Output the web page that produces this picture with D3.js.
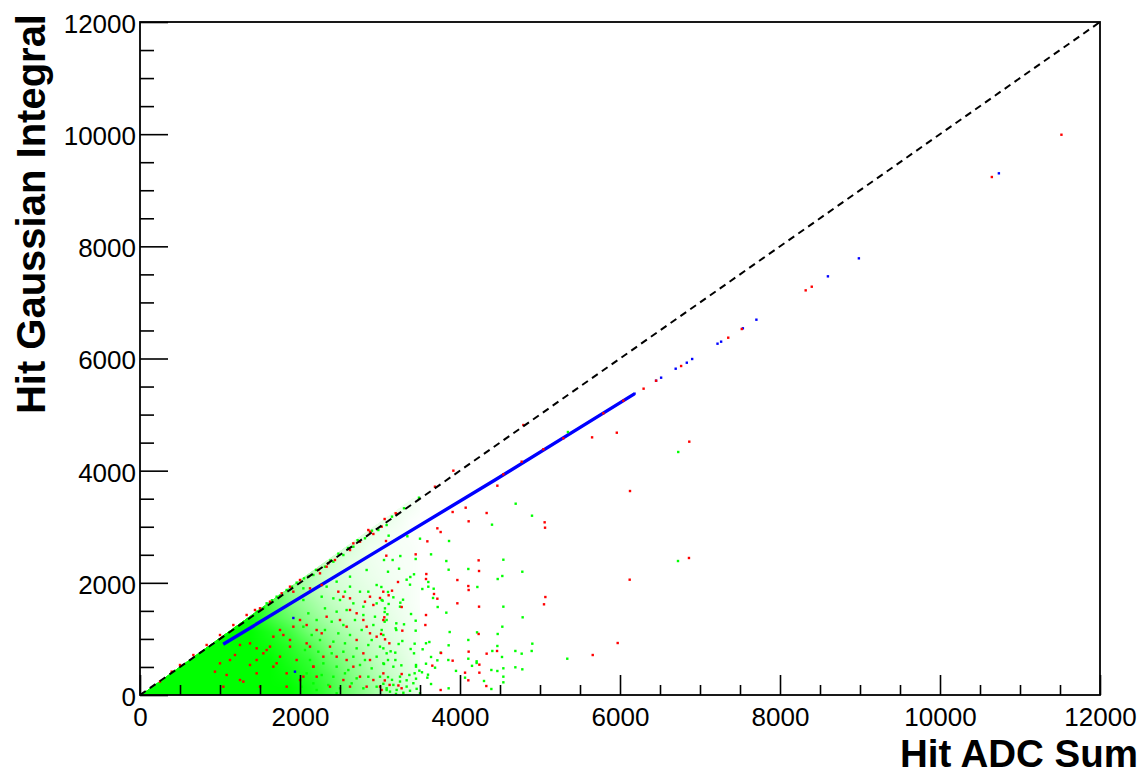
<!DOCTYPE html>
<html>
<head>
<meta charset="utf-8">
<script src="https://cdn.jsdelivr.net/npm/d3@7"></script>
<style>
  html, body { margin: 0; padding: 0; background: #fff; }
  svg { display: block; }
  text { font-family: "Liberation Sans", Arial, Helvetica, sans-serif; }
</style>
</head>
<body>
<svg id="chart" width="1146" height="777"></svg>
<script>
// ---- axis ranges and tick values ----
const xDomain = [0, 12000];
const yDomain = [0, 12000];
const majorTicks = [0, 2000, 4000, 6000, 8000, 10000, 12000];
const minorTicks = [500, 1000, 1500, 2500, 3000, 3500, 4500, 5000, 5500,
                    6500, 7000, 7500, 8500, 9000, 9500, 10500, 11000, 11500];
const xTitle = "Hit ADC Sum";
const yTitle = "Hit Gaussian Integral";

// ---- reference diagonal (integral == ADC sum) ----
const diagonal = [[0, 0], [12000, 12000]];

// ---- dense core of the scatter: fill fraction per 250 x 250 cell ----
// rows: integral bins from 0 upward, columns: ADC bins from 0 upward
const cellSize = 250;
const coreDensity = [
  [1, 1, 1, 1, 1, 1, 1, 1, .9, .75, .55, .4, .25, .15],
  [1, 1, 1, 1, 1, 1, 1, .95, .85, .7, .5, .35, .22, .12],
  [0, 1, 1, 1, 1, 1, 1, .9, .8, .6, .45, .3, .18, .1],
  [0, 0, 0, 1, 1, 1, .95, .85, .7, .5, .38, .25, .15, .08],
  [0, 0, 0, 0, 1, 1, .9, .75, .55, .42, .3, .2, .12, .06],
  [0, 0, 0, 0, 0, .95, .75, .6, .45, .32, .22, .15, .1, .05],
  [0, 0, 0, 0, 0, 0, .7, .5, .38, .26, .18, .12, .08, .04],
  [0, 0, 0, 0, 0, 0, 0, .45, .3, .2, .14, .1, .06, .04],
  [0, 0, 0, 0, 0, 0, 0, 0, .3, .16, .12, .08, .05, .03],
  [0, 0, 0, 0, 0, 0, 0, 0, 0, .2, .1, .07, .04, .03],
  [0, 0, 0, 0, 0, 0, 0, 0, 0, 0, .15, .06, .04, .03],
  [0, 0, 0, 0, 0, 0, 0, 0, 0, 0, 0, .1, .04, .02],
  [0, 0, 0, 0, 0, 0, 0, 0, 0, 0, 0, 0, .08, .02],
  [0, 0, 0, 0, 0, 0, 0, 0, 0, 0, 0, 0, 0, .05]
];
// the core hugs the diagonal and spills slightly above it
const coreEdgeSlope = 1.03;

// ---- green hits: [ADC sum, Gaussian integral] ----
const greenPts = [
  [2271,1753],[2417,1723],[2562,1842],[2667,1634],[2854,1842],[2958,1634],[3062,1545],[2312,1545],
  [2458,1486],[2583,1515],[2792,1426],[2937,1396],[3083,1337],[2208,1337],[2396,1307],[2542,1248],
  [2687,1337],[2917,1248],[3021,1159],[2312,1159],[2479,1099],[2625,1070],[2771,1159],[2896,980],
  [3042,1070],[2250,980],[2417,951],[2562,921],[2708,832],[2854,891],[3000,862],[2229,772],
  [2396,743],[2542,772],[2667,683],[2812,624],[2958,683],[3083,743],[2292,564],[2458,505],
  [2604,445],[2750,535],[2896,475],[3042,564],[2271,356],[2417,326],[2562,386],[2708,297],
  [2854,326],[3000,326],[2354,178],[2500,119],[2646,208],[2792,119],[2958,148],[3083,89],
  [2208,89],[2458,30],
  [2042,1694],[2104,1456],[2042,1218],[2146,1070],[2062,802],[2125,624],[2083,386],[2167,208],[2021,148],
  [1458,1486],[1583,1635],[1708,1753],[1833,1872],[1958,2003],[2104,2110],[2167,2140],[2312,2288],
  [2417,2377],[2542,2496],[2667,2644],[2812,2794],[2979,2942],[3083,3031],[3487,3518],
  [1550,1560],[1650,1690],[1750,1770],[1900,1930],[2050,2080],[2200,2230],[2380,2400],[2480,2520],
  [2600,2620],[2720,2760],[2900,2930],[3150,3180],[3300,3330],
  [2042,1902],[2333,1932],[2458,2021],[2625,2110],[2833,2229],[2625,1932],[2750,1842],[2958,1961],
  [3021,1694],[2792,1575],[2500,1694],
  [4696,3411],[4900,3197],[4400,3037],[3863,2746],[3500,2787],[3342,2830],[3108,2841],[3050,2407],
  [3158,2407],[3254,2478],[3446,2425],[3638,2508],[3829,2389],[4542,2412],[3100,2198],[3238,2252],
  [3425,2152],[3379,2104],[3333,2056],[3604,2015],[3858,2234],[4104,2247],[4471,2068],[4529,2122],
  [4779,2198],[4217,1926],[3375,1967],[3529,1890],[3671,1895],[3604,1931],[3100,1837],[3017,1926],
  [3167,1742],[3033,1682],[3663,1730],[3254,1646],[3288,1699],[3108,1623],[3250,1575],[4542,1575],
  [3721,1569],[3058,1480],[3092,1439],[3829,1468],[3388,1444],[4783,1385],[3300,1260],[3196,1189],
  [3204,1278],[3446,1325],[3058,1307],[3446,1147],[3204,1159],[3871,1123],[4529,1218],[4471,1088],
  [4213,1117],[4771,737],[4692,785],[4904,915],[4896,785],[4404,785],[4467,874],[4525,678],
  [4692,494],[4779,458],[4542,476],[4467,428],[4392,446],[4208,571],[4208,600],[4104,647],
  [4104,981],[4063,309],[4542,327],[4542,226],[4392,107],[3858,119],[3858,886],[3758,755],
  [3854,624],[3638,678],[3717,618],[3688,487],[3575,558],[3533,815],[3575,922],[3617,945],
  [3433,915],[3383,820],[3425,743],[3191,755],[3133,779],[3042,832],[3233,909],[3279,963],
  [3450,535],[3450,505],[3267,529],[3167,505],[3050,553],[3100,624],[3192,624],[3367,357],
  [3433,387],[3492,434],[3525,405],[3600,362],[3592,309],[3638,196],[3250,327],[3333,262],
  [3450,291],[3042,200],[3083,120],[3125,60],[3167,180],[3208,90],[3250,240],[3292,40],
  [3333,150],[3375,75],[3417,210],[3458,110],[3500,30],[3100,320],[3150,270],[3200,20],
  [4150,520],[3950,430],[4300,250],
  [5341,647],[6728,4333],[5349,4689],[6725,2389]
];

// ---- red hits ----
const redPts = [
  [1500,1546],[1625,1664],[1771,1813],[1875,1932],[2000,2051],[2229,2229],[2250,2170],[2354,2348],
  [2437,2407],[2625,2585],[2750,2734],[2917,2871],[3021,3001],[2854,2942],
  [1917,1842],[2125,1902],[2271,1961],[2479,1842],[2542,1753],[2625,1724],[2812,1664],[2875,1753],
  [2917,1605],[3041,1842],
  [1750,1159],[1792,1070],[1875,981],[2000,1337],[2083,1248],[2208,1159],[2271,1100],[2333,1396],
  [2500,1337],[2583,1218],[2625,1516],[2708,1457],[2792,1337],[2833,1218],[2875,1100],[2958,1040],
  [3042,1337],[2708,981],[2375,862],[2458,683],[2583,624],[2667,505],[2792,743],[2875,624],
  [2292,683],[2167,505],[2042,327],[1833,149],[2542,267],[2625,149],[2375,149],[2750,327],
  [2917,267],[3042,386],[1625,862],[1542,743],[1458,624],[1708,565],[1958,624],[2125,862],
  [2208,327],[2833,149],[3000,149],
  [1187,713],[1250,892],[1000,565],[1375,535],[1458,832],[1083,357],[1292,238],[937,416],
  [500,535],[667,713],[833,892],[1000,1070],[1167,1248],[1333,1427],[1437,1516],[396,416],[250,238],
  [1250,267],[1458,386],[1667,505],[1750,683],[1583,802],[1375,921],[1875,862],[1833,386],
  [2000,267],[1125,624],[1667,1040],[1917,1218],[2083,921],[2167,505],[1500,148],[1042,148],
  [2667,2704],[2875,2912],[3208,3227],[2333,2288],
  [6125,3637],[6121,2056],[5971,927],[5659,713],[5058,3079],[5063,2983],[4333,3245],[4467,3732],
  [4108,3097],[4071,3340],[3908,3263],[3717,2972],[3758,2906],[3592,2740],[3075,2746],[3079,2484],
  [3446,2508],[4233,2401],[3579,2157],[3575,2068],[4238,2211],[3967,2050],[4104,1943],[4108,1872],
  [3225,2015],[3150,1860],[3108,1778],[3000,1730],[3675,1801],[3717,1717],[3271,1569],[3967,1635],
  [4238,1575],[5067,1747],[5050,1617],[3054,1385],[3575,1426],[3567,1248],[3013,1088],[3279,1147],
  [4233,1088],[4463,785],[4333,737],[4242,541],[4108,773],[4104,262],[4063,398],[4242,398],
  [4329,160],[3758,89],[3908,612],[3763,749],[3654,523],[3117,922],[3063,993],[3271,374],
  [3060,260],[3120,180],[3020,90],[3230,170],[3270,120],
  [3687,3714],[3196,3240],[3058,3138],[3917,4000],[4792,4814],
  [4542,3935],[4771,4160],[5792,5023],[6042,5248],[5292,4577],[5042,4381],
  [11518,9990],[10648,9236],[8397,7280],[8321,7215],[7522,6526],[7353,6371],[6764,5866],[6451,5604],
  [6295,5462],[5651,4594],[5960,4677],[6866,4517],[6862,2443]
];

// ---- blue hits: the tight run along integral ~ 0.87 x ADC, then isolated hits ----
const blueRun = [[1040, 905], [3000, 2597], [4437, 3833], [6180, 5370]];
const bluePts = [
  [10736,9302],[8986,7786],[8599,7465],[7705,6692],[7536,6538],[7264,6300],[7219,6264],
  [6902,5991],[6835,5925],[6696,5818],[6514,5658],[6451,5604],[6182,5373],
  [1937,416],[1917,1373]
];

// ---- layout ----
const W = 1146, H = 777;
const plot = { left: 140, top: 22, right: 1100, bottom: 695 };
const colors = { green: "#00ff00", red: "#ff0000", blue: "#0000ff" };
const font = '"Liberation Sans", Arial, Helvetica, sans-serif';

const svg = d3.select("#chart");
svg.append("rect").attr("width", W).attr("height", H).attr("fill", "#fff");

const x = d3.scaleLinear().domain(xDomain).range([plot.left, plot.right]);
const y = d3.scaleLinear().domain(yDomain).range([plot.bottom, plot.top]);

const defs = svg.append("defs");
defs.append("clipPath").attr("id", "plotClip")
  .append("rect")
  .attr("x", plot.left).attr("y", plot.top)
  .attr("width", plot.right - plot.left).attr("height", plot.bottom - plot.top);

const dataLayer = svg.append("g").attr("clip-path", "url(#plotClip)");

// ---- dense core: cell fractions shaded smoothly (bilinear between cell centres) ----
const nRows = coreDensity.length, nCols = coreDensity[0].length;
function cellValue(r, c) {
  if (c < 0) c = 0;
  if (r < 0) r = 0;
  if (c >= nCols) return 0;
  if (r > c) r = c;             // above the diagonal: continue the edge cell
  if (r >= nRows) return 0;
  return coreDensity[r][c];
}
function density(a, b) {
  const u = a / cellSize - 0.5, v = b / cellSize - 0.5;
  const c0 = Math.floor(u), r0 = Math.floor(v);
  const fu = u - c0, fv = v - r0;
  const v00 = cellValue(r0, c0), v01 = cellValue(r0, c0 + 1);
  const v10 = cellValue(r0 + 1, c0), v11 = cellValue(r0 + 1, c0 + 1);
  return (v00 * (1 - fu) + v01 * fu) * (1 - fv) + (v10 * (1 - fu) + v11 * fu) * fv;
}
{
  const extentA = nCols * cellSize, extentB = nRows * cellSize;
  const px0 = Math.floor(x(0)), px1 = Math.ceil(x(extentA));
  const py0 = Math.floor(y(extentB)), py1 = Math.ceil(y(0));
  const cw = px1 - px0, ch = py1 - py0;
  const onePixel = x.invert(x(0) + 1) - x.invert(x(0));
  const canvas = document.createElement("canvas");
  canvas.width = cw; canvas.height = ch;
  const ctx = canvas.getContext("2d");
  const im = ctx.createImageData(cw, ch);
  for (let j = 0; j < ch; j++) {
    for (let i = 0; i < cw; i++) {
      const a = x.invert(px0 + i + 0.5), b = y.invert(py0 + j + 0.5);
      if (a < 0 || b < 0) continue;
      const edge = a * coreEdgeSlope - b;         // distance below the band edge
      if (edge < 0) continue;
      let d = Math.max(0, Math.min(1, density(a, b)));
      d *= Math.min(1, edge / onePixel + 0.3);    // soft top edge
      const k = (j * cw + i) * 4;
      im.data[k] = 0; im.data[k + 1] = 255; im.data[k + 2] = 0;
      im.data[k + 3] = Math.round(d * 255);
    }
  }
  ctx.putImageData(im, 0, 0);
  dataLayer.append("image")
    .attr("x", px0).attr("y", py0)
    .attr("width", cw).attr("height", ch)
    .attr("href", canvas.toDataURL());
}

// tight blue run
dataLayer.append("path")
  .datum(blueRun)
  .attr("d", d3.line().x(d => x(d[0])).y(d => y(d[1])))
  .attr("fill", "none")
  .attr("stroke", colors.blue)
  .attr("stroke-width", 3.4);

const dot = 2.4;
function drawHits(pts, color) {
  dataLayer.append("g")
    .selectAll("rect").data(pts).join("rect")
    .attr("x", d => x(d[0]) - dot / 2)
    .attr("y", d => y(d[1]) - dot / 2)
    .attr("width", dot).attr("height", dot)
    .attr("fill", color);
}
drawHits(greenPts, colors.green);
drawHits(bluePts, colors.blue);
drawHits(redPts, colors.red);

// dashed diagonal
dataLayer.append("path")
  .datum(diagonal)
  .attr("d", d3.line().x(d => x(d[0])).y(d => y(d[1])))
  .attr("fill", "none")
  .attr("stroke", "#000")
  .attr("stroke-width", 2)
  .attr("stroke-dasharray", "7,5");

// ---- axes: ticks drawn inward from the bottom and left edges ----
function styleAxis(g) {
  g.select(".domain").remove();
  g.selectAll(".tick line").attr("stroke", "#000").attr("stroke-width", 1.6);
}

const xMajor = svg.append("g").attr("transform", `translate(0,${plot.bottom})`)
  .call(d3.axisBottom(x).tickValues(majorTicks).tickSizeInner(-20).tickSizeOuter(0)
    .tickFormat(d3.format("d")));
styleAxis(xMajor);
xMajor.selectAll(".tick text")
  .attr("y", 31).attr("dy", null)
  .attr("font-family", font).attr("font-size", 26).attr("fill", "#000");

const xMinor = svg.append("g").attr("transform", `translate(0,${plot.bottom})`)
  .call(d3.axisBottom(x).tickValues(minorTicks).tickSizeInner(-10).tickSizeOuter(0).tickFormat(""));
styleAxis(xMinor);

const yMajor = svg.append("g").attr("transform", `translate(${plot.left},0)`)
  .call(d3.axisLeft(y).tickValues(majorTicks).tickSizeInner(-28).tickSizeOuter(0)
    .tickFormat(d3.format("d")));
styleAxis(yMajor);
yMajor.selectAll(".tick text")
  .attr("x", -4).attr("dy", "0.4em")
  .attr("font-family", font).attr("font-size", 26).attr("fill", "#000");

const yMinor = svg.append("g").attr("transform", `translate(${plot.left},0)`)
  .call(d3.axisLeft(y).tickValues(minorTicks).tickSizeInner(-14).tickSizeOuter(0).tickFormat(""));
styleAxis(yMinor);

// frame
svg.append("rect")
  .attr("x", plot.left).attr("y", plot.top)
  .attr("width", plot.right - plot.left).attr("height", plot.bottom - plot.top)
  .attr("fill", "none").attr("stroke", "#000").attr("stroke-width", 1.8);

// ---- axis titles ----
svg.append("text")
  .attr("x", 1138).attr("y", 767)
  .attr("text-anchor", "end")
  .attr("font-family", font).attr("font-weight", "bold").attr("font-size", 38.5)
  .attr("fill", "#000")
  .text(xTitle);

svg.append("text")
  .attr("transform", "translate(45,14) rotate(-90)")
  .attr("text-anchor", "end")
  .attr("font-family", font).attr("font-weight", "bold").attr("font-size", 40)
  .attr("fill", "#000")
  .text(yTitle);
</script>
</body>
</html>
